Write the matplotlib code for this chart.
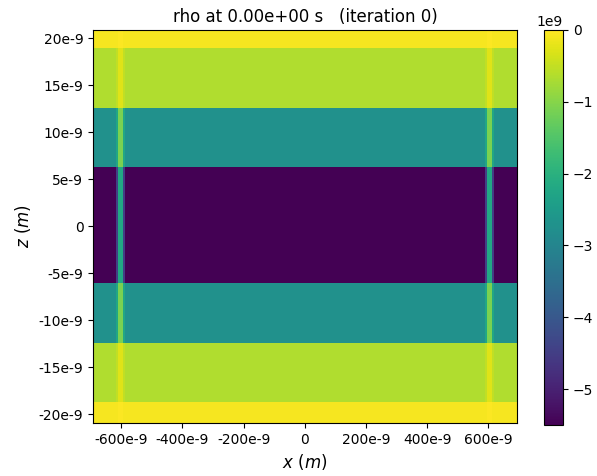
import numpy as np
import matplotlib
matplotlib.use("Agg")
import matplotlib.pyplot as plt
from matplotlib.ticker import FuncFormatter

# ----------------- DATA -----------------
# domain limits (m)
x_lim = [-692e-9, 694e-9]
z_lim = [-20.95e-9, 20.9e-9]

# horizontal layers in z: edges (m) and charge density values (C/m^3)
z_edges = [-20.95e-9, -18.7e-9, -12.4e-9, -6.07e-9, 6.3e-9, 12.6e-9, 19.0e-9, 20.9e-9]
band_rho = [-0.08e9, -0.65e9, -2.75e9, -5.5e9, -2.75e9, -0.65e9, -0.08e9]

# thin vertical stripes (lower density) near x = +-600e-9
stripe_centers = [-603e-9, 604e-9]
stripe_offsets = [-14e-9, -8e-9, 8e-9, 14e-9]
stripe_factor = [0.82, 0.4, 0.82]

x_ticks = [-600e-9, -400e-9, -200e-9, 0, 200e-9, 400e-9, 600e-9]
z_ticks = [-20e-9, -15e-9, -10e-9, -5e-9, 0, 5e-9, 10e-9, 15e-9, 20e-9]

# ----------------- GRID -----------------
x_edges = [x_lim[0]]
factors = [1.0]
for c in stripe_centers:
    x_edges += [c + o for o in stripe_offsets]
    factors += stripe_factor + [1.0]
x_edges.append(x_lim[1])

rho = np.outer(band_rho, factors)


def nano_fmt(v, pos):
    n = int(round(v * 1e9))
    return "0" if n == 0 else f"{n}e-9"


# ----------------- PLOT -----------------
fig = plt.figure(figsize=(5.97, 4.76), dpi=100)
ax = fig.add_axes([0.156, 0.111, 0.71, 0.826])
cax = fig.add_axes([0.911, 0.107, 0.032, 0.83])

mesh = ax.pcolormesh(x_edges, z_edges, rho, cmap="viridis", vmin=-5.5e9, vmax=0)
ax.set_xlim(x_lim)
ax.set_ylim(z_lim)
ax.set_xticks(x_ticks)
ax.set_yticks(z_ticks)
ax.xaxis.set_major_formatter(FuncFormatter(nano_fmt))
ax.yaxis.set_major_formatter(FuncFormatter(nano_fmt))
ax.set_xlabel("$x$ $(m)$", fontsize=12)
ax.set_ylabel("$z$ $(m)$", fontsize=12)
ax.set_title("rho at 0.00e+00 s   (iteration 0)", fontsize=12)

cb = fig.colorbar(mesh, cax=cax)

fig.savefig("out.png", dpi=100)
